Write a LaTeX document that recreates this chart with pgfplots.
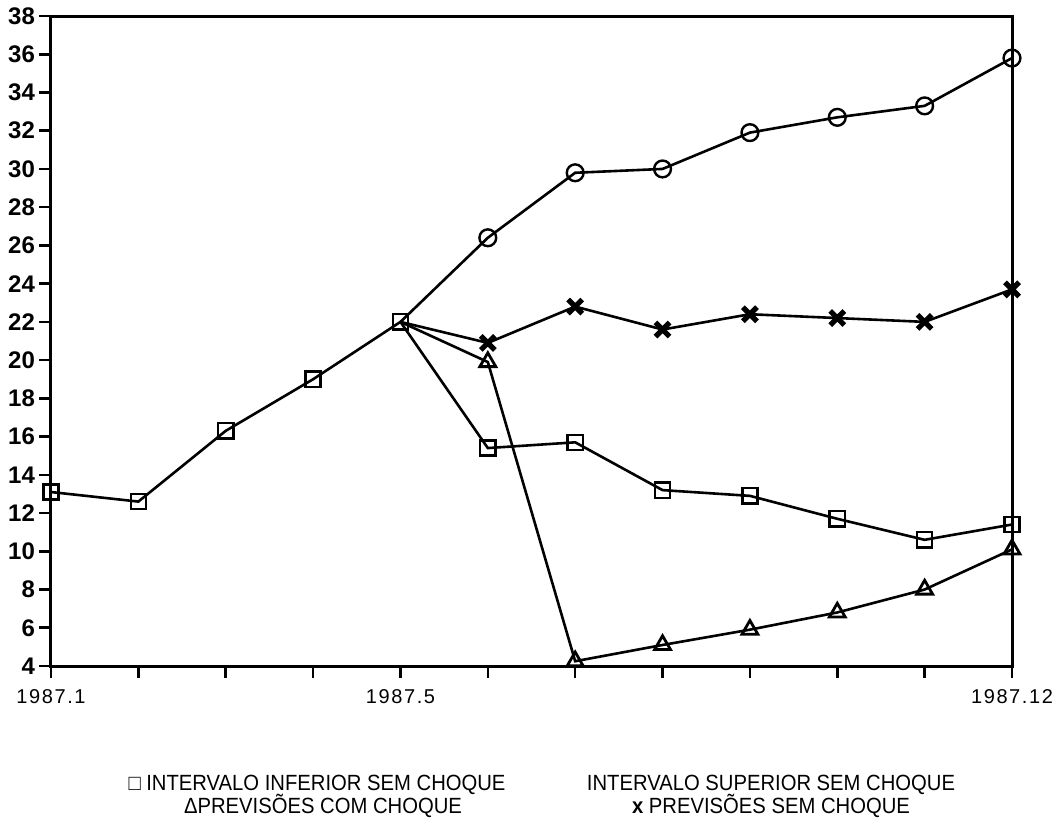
\documentclass[border=0pt]{standalone}
\usepackage{fontspec}
\setmainfont{Liberation Sans}
\newfontfamily\legfont[FakeStretch=0.92]{Liberation Sans}
\usepackage{pgfplots}
\pgfplotsset{compat=1.18}
\begin{document}
\begin{tikzpicture}
\begin{axis}[
  name=ax,
  scale only axis,
  width=480.5pt, height=325pt,
  xmin=1, xmax=12, ymin=4, ymax=38,
  xtick={1,...,12},
  xticklabels={1987.1,,,,1987.5,,,,,,,1987.12},
  ytick={4,6,...,38},
  /pgf/number format/assume math mode=true,
  tick align=outside,
  major tick length=6pt,
  tick style={line width=1.3pt, black},
  axis line style={line width=1.5pt},
  xtick pos=bottom, ytick pos=left,
  yticklabel style={font=\fontsize{12}{14}\selectfont\bfseries, xshift=1.5pt},
  xticklabel style={font=\fontsize{10}{12}\selectfont\addfontfeature{LetterSpace=8}, yshift=-2pt},
  clip=false,
  every axis plot/.append style={line width=1.3pt, black},
]
% lower interval (squares)
\addplot[mark=square, mark size=3.8pt, mark options={line width=1.2pt, solid}]
 coordinates {(1,13.1) (2,12.6) (3,16.3) (4,19.0) (5,22.0) (6,15.4) (7,15.7) (8,13.2) (9,12.9) (10,11.7) (11,10.6) (12,11.4)};
% upper interval (circles)
\addplot[mark=o, mark size=4.2pt, mark indices={2,...,8}, mark options={line width=1.2pt, solid}]
 coordinates {(5,22.0) (6,26.4) (7,29.8) (8,30.0) (9,31.9) (10,32.7) (11,33.3) (12,35.8)};
% previsoes sem choque (crosses)
\addplot[mark=x, mark size=5pt, mark indices={2,...,8}, mark options={line width=2.6pt, solid}]
 coordinates {(5,22.0) (6,20.9) (7,22.8) (8,21.6) (9,22.4) (10,22.2) (11,22.0) (12,23.7)};
% previsoes com choque (triangles)
\addplot[mark=triangle, mark size=4.6pt, mark indices={2,...,8}, mark options={line width=1.4pt, solid}]
 coordinates {(5,22.0) (6,19.9) (7,4.25) (8,5.1) (9,5.9) (10,6.8) (11,8.0) (12,10.1)};
\end{axis}
\begin{scope}[font=\fontsize{11}{13}\legfont]
\path (ax.south west) ++(133pt,-62pt) node[anchor=base] {□ INTERVALO INFERIOR SEM CHOQUE};
\path (ax.south west) ++(136pt,-73.5pt) node[anchor=base] {ΔPREVISÕES COM CHOQUE};
\path (ax.south west) ++(360pt,-62pt) node[anchor=base] {INTERVALO SUPERIOR SEM CHOQUE};
\path (ax.south west) ++(360pt,-73.5pt) node[anchor=base] {{\bfseries x} PREVISÕES SEM CHOQUE};
\end{scope}
\pgfresetboundingbox
\path[use as bounding box] (ax.south west) ++(-25.5pt,-77pt) rectangle ++(527.5pt,410pt);
\end{tikzpicture}
\end{document}
